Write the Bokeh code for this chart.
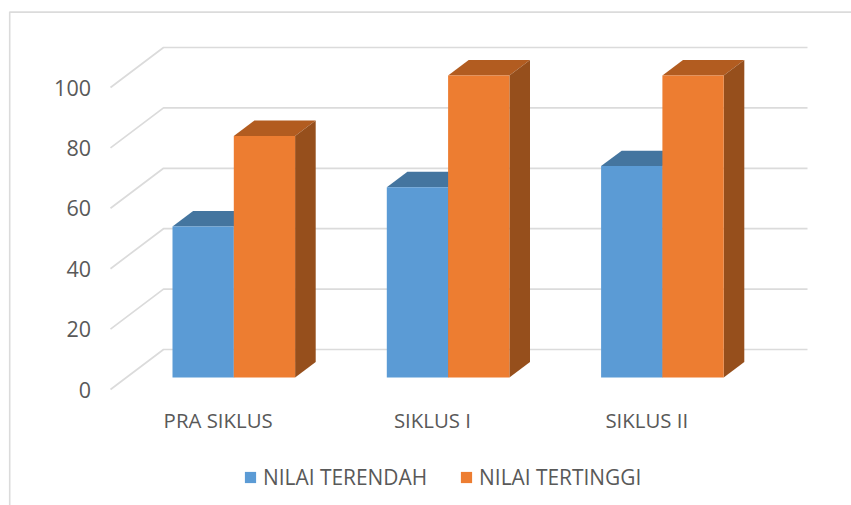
from bokeh.plotting import figure
from bokeh.models import Range1d, LinearAxis, FixedTicker, Legend, LegendItem
from bokeh.embed import file_html
from bokeh.resources import INLINE

categories = ["PRA SIKLUS", "SIKLUS I", "SIKLUS II"]
nilai_terendah = [50, 63, 70]
nilai_tertinggi = [80, 100, 100]
y_ticks = [0, 20, 40, 60, 80, 100]

W, H = 851, 505
OX, OY = 0, 0
CAT_PX, CAT0_PX = 214.3, 233.3   # px per category, px of first category's bar seam
UNIT_PX, ZERO_PX = 3.02, 389.0   # px per value unit, px of value 0 on the front of the side wall
BAR_W = 61.3 / CAT_PX


def xd(px):
    return (px - CAT0_PX) / CAT_PX


def dy(px):
    return px / UNIT_PX


p = figure(width=W, height=H, output_backend="svg", toolbar_location=None,
           x_range=Range1d(xd(OX), xd(OX + W)),
           y_range=Range1d((ZERO_PX - (OY + H)) / UNIT_PX, (ZERO_PX - OY) / UNIT_PX),
           min_border=0, min_border_left=0, min_border_right=0, min_border_top=0, min_border_bottom=0,
           x_axis_type=None, y_axis_type=None, outline_line_color=None)
p.grid.visible = False

GRID = "#dbdbdb"
# outer chart frame
p.line([xd(851), xd(9.2), xd(9.2)], [dy(ZERO_PX - 11.6), dy(ZERO_PX - 11.6), dy(ZERO_PX - 505)],
       line_color=GRID, line_width=1.6)

# walls
wall_xs, wall_ys = [], []
for t in y_ticks:
    wall_xs.append([xd(110), xd(163), xd(807)])
    wall_ys.append([t, t + dy(40), t + dy(40)])
p.multi_line(wall_xs, wall_ys, line_color=GRID, line_width=1.7)

# bars
FRONT = dy(12)           # front face base is above the front floor edge
DX, DY = 20.6 / CAT_PX, dy(15.4)


def bars(x0s, vals, front, top, side, label):
    x1s = [x + BAR_W for x in x0s]
    tops = [v + FRONT for v in vals]
    p.patches([[a, b, b + DX, a + DX] for a, b in zip(x0s, x1s)],
              [[t, t, t + DY, t + DY] for t in tops], fill_color=top, line_color=None)
    p.patches([[b, b + DX, b + DX, b] for b in x1s],
              [[FRONT, FRONT + DY, t + DY, t] for t in tops], fill_color=side, line_color=None)
    r = p.quad(left=x0s, right=x1s, bottom=[FRONT] * 3, top=tops, fill_color=front, line_color=None)
    return LegendItem(label=label, renderers=[r])


blue_x = [i - BAR_W for i in range(3)]
orange_x = [float(i) for i in range(3)]
i1 = bars(blue_x, nilai_terendah, "#5b9bd5", "#44759f", "#3b6a95", "NILAI TERENDAH")
i2 = bars(orange_x, nilai_tertinggi, "#ed7d31", "#b25c20", "#964f1c", "NILAI TERTINGGI")

TXT = "#595959"
yax = LinearAxis(fixed_location=xd(90.5), ticker=FixedTicker(ticks=y_ticks))
yax.axis_line_color = None
yax.major_tick_line_color = None
yax.minor_tick_line_color = None
yax.major_tick_in = yax.major_tick_out = 0
yax.major_label_standoff = 0
yax.major_label_text_font = "Open Sans"
yax.major_label_text_font_size = "21.5px"
yax.major_label_text_color = TXT
p.add_layout(yax, "left")

tick_pos = [i - 0.073 for i in range(3)]
xax = LinearAxis(fixed_location=dy(ZERO_PX - 405), ticker=FixedTicker(ticks=tick_pos),
                 major_label_overrides=dict(zip(tick_pos, categories)))
xax.axis_line_color = None
xax.major_tick_line_color = None
xax.minor_tick_line_color = None
xax.major_tick_in = xax.major_tick_out = 0
xax.major_label_standoff = 0
xax.major_label_text_font = "Open Sans"
xax.major_label_text_font_size = "20.4px"
xax.major_label_text_color = TXT
p.add_layout(xax, "below")

legend = Legend(items=[i1, i2], orientation="horizontal", location=(243, 14),
                background_fill_alpha=0, border_line_color=None, padding=0, margin=0,
                glyph_width=14, glyph_height=14, label_standoff=6, spacing=32,
                label_text_font="Open Sans", label_text_font_size="20.9px", label_text_color=TXT)
p.add_layout(legend, "center")

open("out.html", "w").write(file_html(p, INLINE))
